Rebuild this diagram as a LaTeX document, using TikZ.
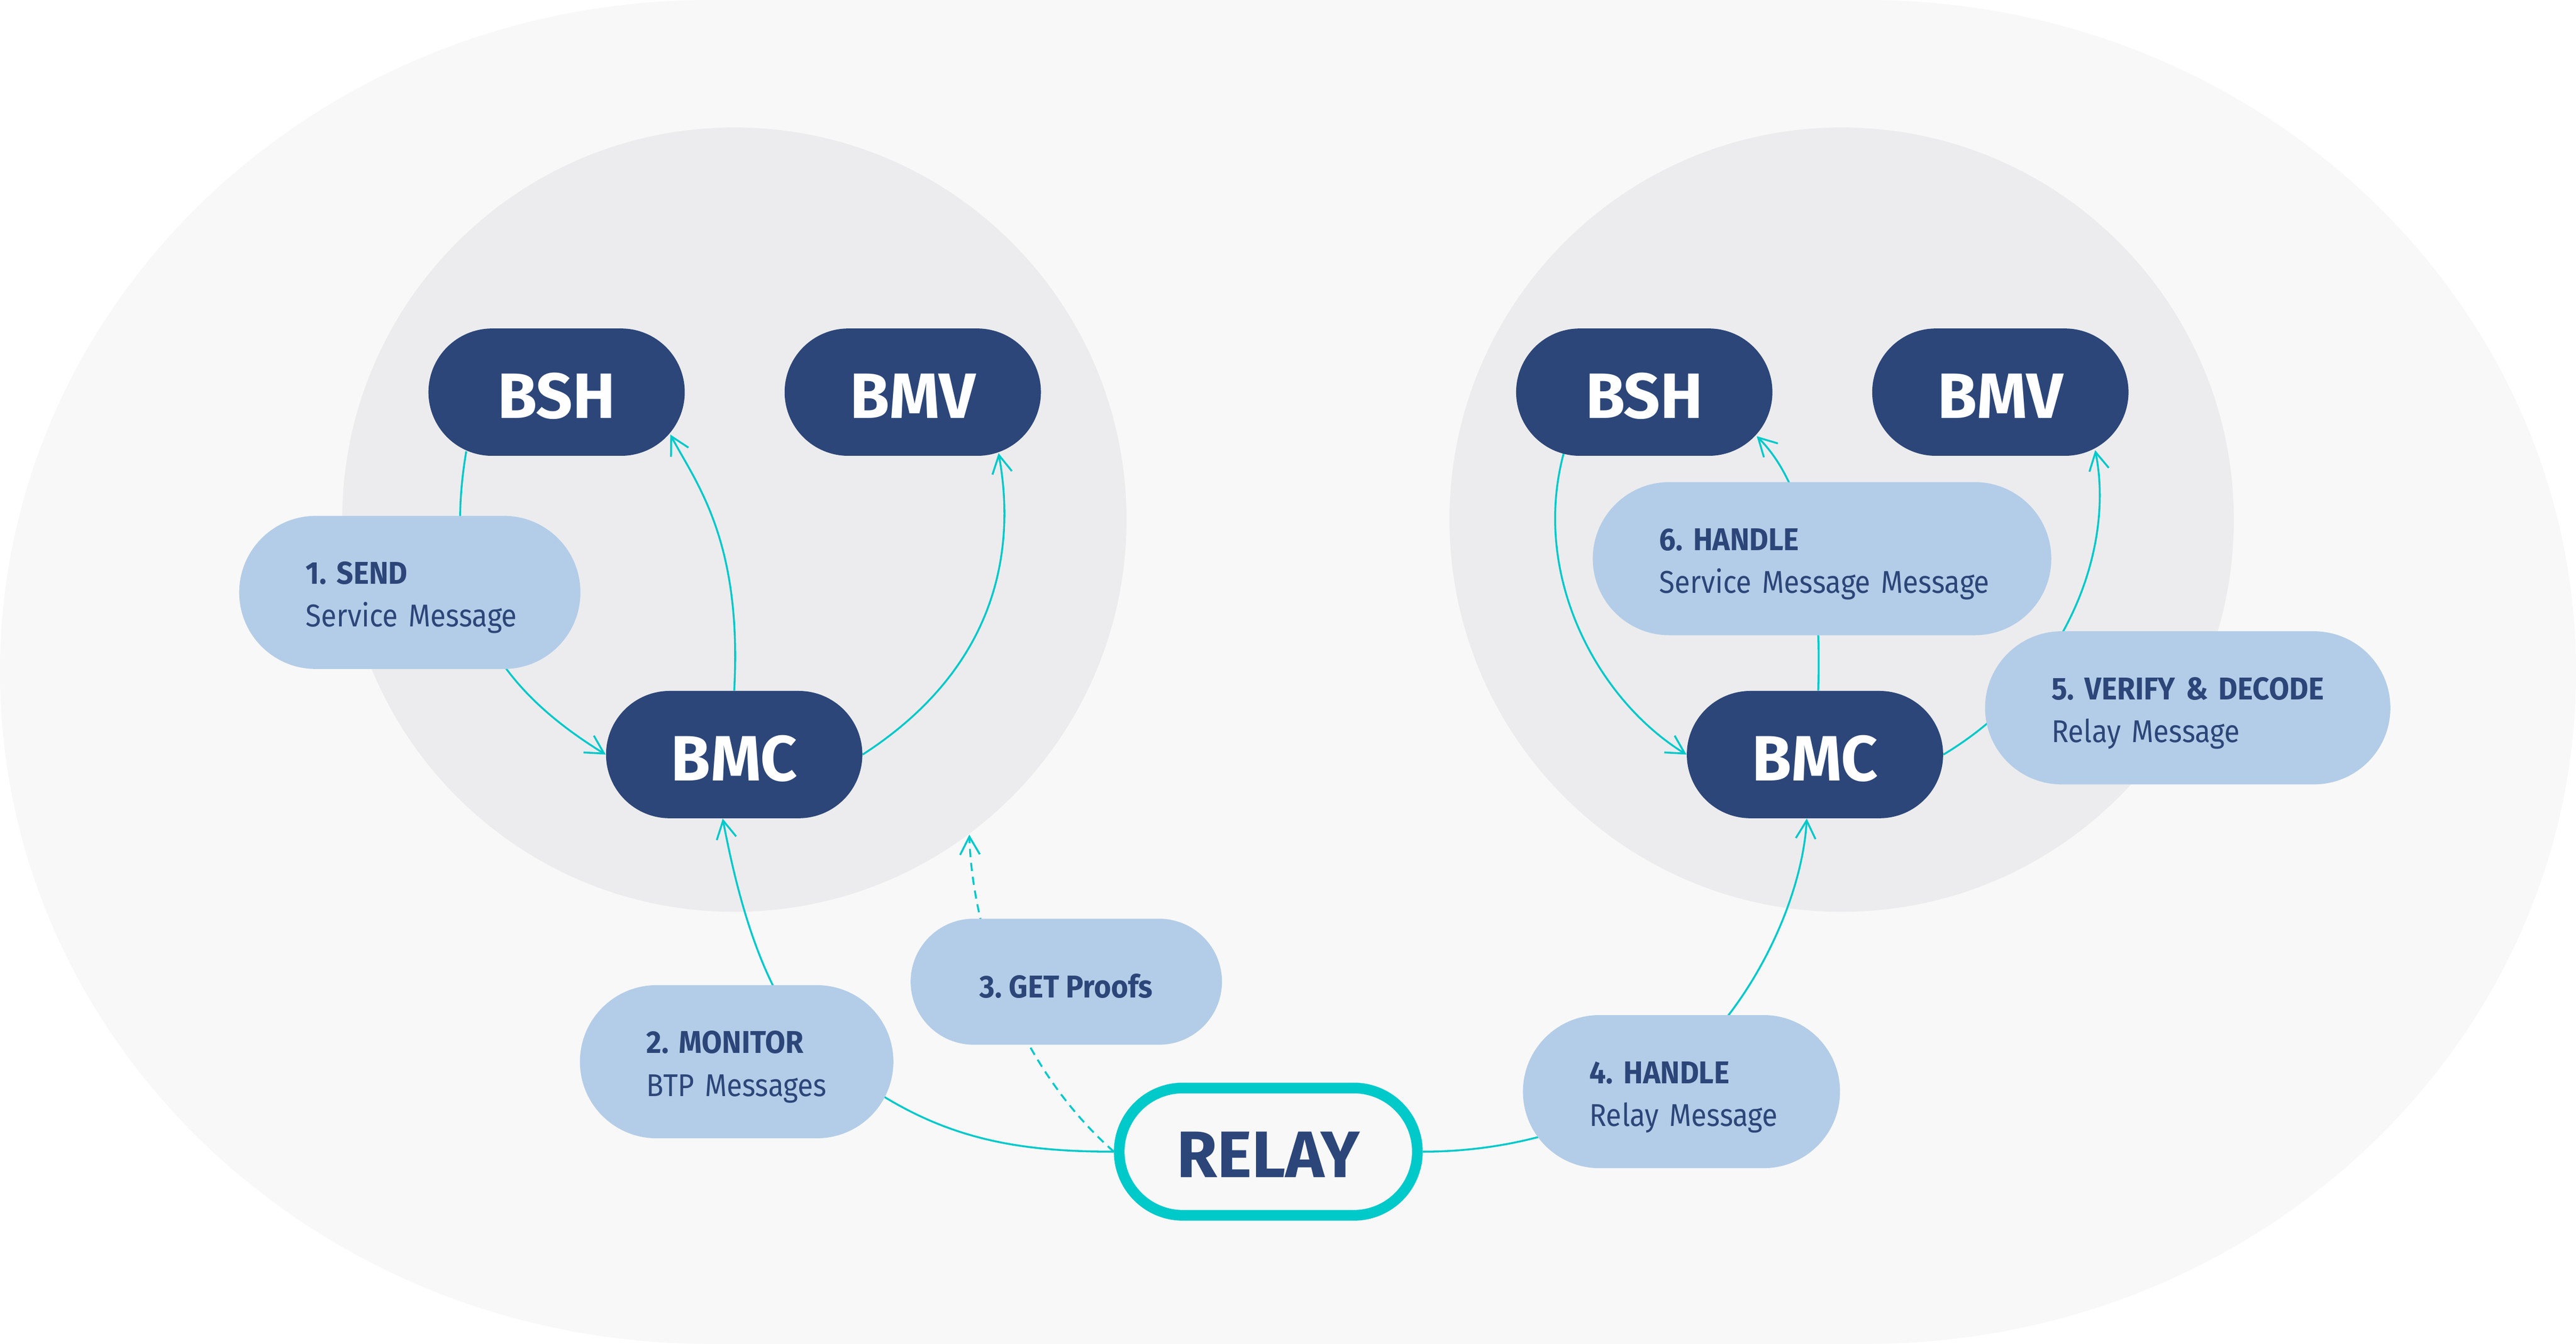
\documentclass[tikz,border=0pt]{standalone}
\usepackage{fontspec}
\newfontfamily\ffr{Fira Sans}[FakeStretch=0.9, WordSpace=0.85]
\newfontfamily\ffb{Fira Sans}[FakeStretch=0.93]
\newfontfamily\ffbig{Fira Sans}
\usetikzlibrary{arrows.meta}
\definecolor{navy}{HTML}{2C4679}
\definecolor{pale}{HTML}{B3CDE8}
\definecolor{tealc}{HTML}{00C9CA}
\definecolor{stad}{HTML}{F8F8F8}
\definecolor{circc}{HTML}{ECECEE}
\pgfdeclarelayer{bg}
\pgfdeclarelayer{lines}
\pgfsetlayers{bg,lines,main}
\newcommand{\hd}[1]{\mbox{\ffb\bfseries #1}}
\begin{document}
\frenchspacing
\begin{tikzpicture}[x=1pt,y=-1pt,
  dk/.style={fill=navy, text=white, rounded corners=38.75pt, minimum width=156pt,
    minimum height=77.5pt, inner sep=0pt, text height=31.6pt, text depth=0pt,
    font=\ffbig\bfseries\fontsize{39}{39}\selectfont},
  relaybox/.style={draw=tealc, line width=6.5pt, fill=stad, text=navy,
    rounded corners=38.75pt, minimum width=181.5pt, minimum height=77.5pt,
    inner sep=0pt, text height=31.2pt, text depth=0pt,
    font=\ffbig\bfseries\fontsize{40}{40}\selectfont},
  lbox/.style={fill=pale, text=navy, rounded corners=46.6pt, minimum height=93.2pt,
    inner xsep=40.5pt, inner ysep=0pt, align=left,
    font=\ffr\frenchspacing\fontsize{19.2}{26}\selectfont},
  lboxc/.style={fill=pale, text=navy, rounded corners=38.35pt, minimum height=76.7pt,
    minimum width=189.5pt, inner sep=0pt, text height=19.4pt, text depth=0pt,
    font=\ffb\frenchspacing\bfseries\fontsize{19.2}{26}\selectfont},
  conn/.style={draw=tealc, line width=1.15pt, -{Straight Barb[length=11pt,width=12pt]}},
  dashedconn/.style={conn, dash pattern=on 5pt off 3.5pt}
]
\useasboundingbox (0,0) rectangle (1568,818);
\begin{pgfonlayer}{bg}
  \fill[white] (0,0) rectangle (1568,818);
  \fill[stad] (432,0) arc[start angle=90,end angle=270,x radius=432pt,y radius=409pt]
    -- (1136,818) arc[start angle=-90,end angle=90,x radius=432pt,y radius=409pt] -- cycle;
  \fill[circc] (447,316.3) circle[radius=238.7pt];
  \fill[circc] (1121,316.3) circle[radius=238.7pt];
\end{pgfonlayer}

% main nodes
\node[dk] (bshL) at (338.8,238.7) {BSH};
\node[dk] (bmvL) at (555.6,238.7) {BMV};
\node[dk] (bmcL) at (446.9,459.3) {BMC};
\node[dk] (bshR) at (1000.85,238.7) {BSH};
\node[dk] (bmvR) at (1217.6,238.7) {BMV};
\node[dk] (bmcR) at (1104.75,459.3) {BMC};
\node[relaybox] (relay) at (772,701) {RELAY};

% label boxes
\node[lbox, text width=126.7pt] (send) at (249.45,360.6)
  {\rule{0pt}{20pt}\hd{1. SEND}\\\mbox{Service Message}};
\node[lbox, text width=109.8pt] (monitor) at (448.4,646.25)
  {\rule{0pt}{20pt}\hd{2. MONITOR}\\\mbox{BTP Messages}};
\node[lboxc] (proofs) at (649.05,597.55) {3. GET Proofs};
\node[lbox, text width=112pt] (handle4) at (1023.5,664.45)
  {\rule{0pt}{20pt}\hd{4. HANDLE}\\\mbox{Relay Message}};
\node[lbox, text width=165.7pt] (verify) at (1331.65,430.85)
  {\rule{0pt}{20pt}\hd{5. VERIFY \& DECODE}\\\mbox{Relay Message}};
\node[lbox, text width=198.1pt] (handle6) at (1109.05,340.05)
  {\rule{0pt}{20pt}\hd{6. HANDLE}\\\mbox{Service Message Message}};

\begin{pgfonlayer}{lines}
  \coordinate (m4) at (500,640);
  \coordinate (m6) at (1000,665);
  \coordinate (proofEnd) at (590,508);
  % left chain
  \draw[conn] ([shift={(-55,36)}]bshL.center) .. controls +(-16,95) and +(-64,-39.5) .. (bmcL.west);
  \draw[conn] (bmcL.north) .. controls +(5,-91) and +(16,30) .. ([shift={(69.2,25.8)}]bshL.center);
  \draw[conn] (bmcL.east) .. controls +(85,-55) and +(10,55) .. ([shift={(52.2,37.1)}]bmvL.center);
  % relay links
  \draw[conn] (relay.west) .. controls +(-70,0) and +(60,50) .. (m4)
    .. controls +(-36,-30) and +(8,42) .. ([xshift=-7pt]bmcL.south);
  \draw[dashedconn] (relay.west) .. controls +(-58,-51) and +(2,62) .. (proofEnd);
  \draw[conn] (relay.east) .. controls +(46,0) and +(-40,25) .. (m6)
    .. controls +(58,-33) and +(-3,55) .. ([xshift=-5pt]bmcR.south);
  % right chain
  \draw[conn] (bmcR.east) .. controls +(75,-45) and +(12,60) .. ([shift={(57.7,35.3)}]bmvR.center);
  \draw[conn] ([xshift=2pt]bmcR.north) .. controls +(2,-70) and +(30,30) .. ([shift={(68.45,26.8)}]bshR.center);
  \draw[conn] ([shift={(-49,37)}]bshR.center) .. controls +(-20,74) and +(-55,-34) .. (bmcR.west);
\end{pgfonlayer}
\end{tikzpicture}
\end{document}
